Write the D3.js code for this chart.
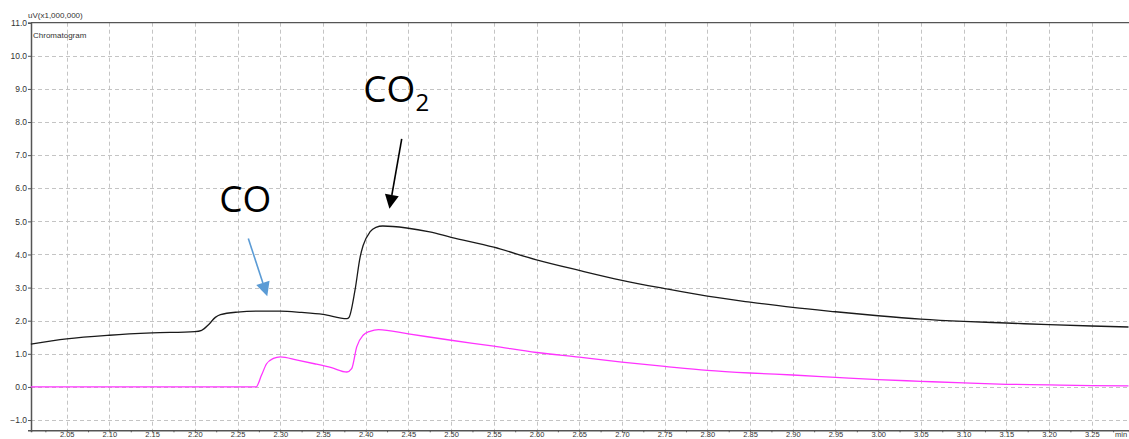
<!DOCTYPE html>
<html>
<head>
<meta charset="utf-8">
<script src="https://cdn.jsdelivr.net/npm/d3@7"></script>
<style>
  html, body { margin: 0; padding: 0; background: #fff; overflow: hidden; }
  svg { display: block; }
</style>
</head>
<body>
<svg id="chart" width="1129" height="439"></svg>
<script>
// Retention time (min) and detector signal (uV x 1,000,000)
const upperTime = [2.008, 2.05, 2.10, 2.15, 2.20, 2.208, 2.216, 2.224, 2.23, 2.25, 2.275, 2.30, 2.325, 2.35, 2.378,
  2.3805, 2.3875, 2.3935, 2.397, 2.405, 2.412, 2.42, 2.448, 2.475, 2.50, 2.55, 2.60, 2.65, 2.70, 2.75, 2.80,
  2.85, 2.90, 2.95, 3.00, 3.05, 3.10, 3.15, 3.20, 3.25, 3.293];
const upperSignal = [1.29, 1.45, 1.56, 1.63, 1.67, 1.71, 1.88, 2.10, 2.18, 2.26, 2.29, 2.29, 2.25, 2.19, 2.06,
  2.10, 2.92, 3.92, 4.27, 4.68, 4.82, 4.86, 4.80, 4.68, 4.52, 4.22, 3.84, 3.52, 3.22, 2.97, 2.74,
  2.56, 2.40, 2.27, 2.15, 2.05, 1.98, 1.93, 1.88, 1.84, 1.81];

const lowerTime = [2.008, 2.2716, 2.278, 2.284, 2.292, 2.30, 2.32, 2.34, 2.36, 2.378, 2.3836, 2.3895, 2.397,
  2.405, 2.415, 2.45, 2.50, 2.55, 2.60, 2.65, 2.70, 2.75, 2.80, 2.85, 2.90, 2.95, 3.00, 3.05, 3.10, 3.15,
  3.20, 3.25, 3.293];
const lowerSignal = [0, 0, 0.35, 0.70, 0.86, 0.91, 0.81, 0.70, 0.58, 0.45, 0.55, 1.21, 1.56,
  1.68, 1.73, 1.60, 1.41, 1.23, 1.04, 0.90, 0.75, 0.62, 0.50, 0.42, 0.36, 0.29, 0.22, 0.17, 0.12, 0.08,
  0.06, 0.04, 0.03];

const xTicks = [2.05, 2.10, 2.15, 2.20, 2.25, 2.30, 2.35, 2.40, 2.45, 2.50, 2.55, 2.60, 2.65, 2.70, 2.75,
  2.80, 2.85, 2.90, 2.95, 3.00, 3.05, 3.10, 3.15, 3.20, 3.25];
const xMinorTicks = [2.025, 2.075, 2.125, 2.175, 2.225, 2.275, 2.325, 2.375, 2.425, 2.475, 2.525, 2.575,
  2.625, 2.675, 2.725, 2.775, 2.825, 2.875, 2.925, 2.975, 3.025, 3.075, 3.125, 3.175, 3.225, 3.275];
const yTicks = [-1, 0, 1, 2, 3, 4, 5, 6, 7, 8, 9, 10, 11];

// Peak labels with their arrows: text anchor, arrow tail and arrow tip in (t, v)
const peakLabels = [
  { text: "CO", sub: "", at: [2.2286, 5.28], tail: [2.2626, 4.48], tip: [2.2848, 2.74], color: "#5b9bd5" },
  { text: "CO", sub: "2", at: [2.3972, 8.60], tail: [2.4422, 7.49], tip: [2.4278, 5.38], color: "#000000" }
];

const plotLeft = 31, plotRight = 1129, plotTop = 22.7, plotBottom = 430.3;
const x = d3.scaleLinear().domain([2.0082, 3.2936]).range([plotLeft, plotRight]);
const y = d3.scaleLinear().domain([-1.31, 11.0]).range([plotBottom, plotTop]);

const svg = d3.select("#chart");
const smallFont = "'Liberation Sans', Arial, sans-serif";

// grid
const grid = svg.append("g").attr("stroke", "#c4c4c4").attr("stroke-width", 1).attr("stroke-dasharray", "4,3");
grid.selectAll("line.v").data(xTicks).join("line").attr("class", "v")
  .attr("x1", d => Math.round(x(d)) + 0.5).attr("x2", d => Math.round(x(d)) + 0.5)
  .attr("y1", plotTop).attr("y2", plotBottom);
grid.selectAll("line.h").data(yTicks.filter(d => d < 11)).join("line").attr("class", "h")
  .attr("x1", plotLeft).attr("x2", plotRight)
  .attr("y1", d => Math.round(y(d)) + 0.5).attr("y2", d => Math.round(y(d)) + 0.5);

// axes
const yAxis = d3.axisLeft(y).tickValues(yTicks).tickFormat(d3.format(".1f")).tickSize(3).tickPadding(1);
const yg = svg.append("g").attr("transform", `translate(${plotLeft},0)`).call(yAxis);
const xAxis = d3.axisBottom(x).tickValues(xTicks).tickFormat(d3.format(".2f")).tickSize(2).tickPadding(0);
const xg = svg.append("g").attr("transform", `translate(0,${plotBottom})`).call(xAxis);
const xMinor = d3.axisBottom(x).tickValues(xMinorTicks).tickFormat("").tickSize(2);
svg.append("g").attr("transform", `translate(0,${plotBottom})`).call(xMinor)
  .call(g => g.select(".domain").remove());

[yg, xg].forEach(g => {
  g.select(".domain").attr("stroke", "#555").attr("stroke-width", 1.5);
  g.selectAll(".tick text").attr("fill", "#333").attr("font-family", smallFont).attr("font-size", 8.5);
});
// bottom labels sit tight under the axis line
xg.selectAll(".tick text").attr("font-size", 7.5).attr("dy", "0.58em");
svg.selectAll(".tick line").attr("stroke", "#555");

// top frame line
svg.append("line").attr("x1", plotLeft).attr("x2", plotRight).attr("y1", plotTop).attr("y2", plotTop)
  .attr("stroke", "#555").attr("stroke-width", 1.2);

// titles
svg.append("text").attr("x", 28).attr("y", 18).attr("font-family", smallFont).attr("font-size", 8)
  .attr("fill", "#333").text("uV(x1,000,000)");
svg.append("text").attr("x", 33).attr("y", 38).attr("font-family", smallFont).attr("font-size", 8)
  .attr("fill", "#333").text("Chromatogram");
svg.append("text").attr("x", 1115).attr("y", plotBottom + 6.6).attr("font-family", smallFont).attr("font-size", 7.5)
  .attr("fill", "#333").text("min");

// traces
const line = d3.line().x(d => x(d[0])).y(d => y(d[1])).curve(d3.curveMonotoneX);
svg.append("path").datum(lowerTime.map((t, i) => [t, lowerSignal[i]]))
  .attr("d", line).attr("fill", "none").attr("stroke", "#ff33ff").attr("stroke-width", 1.3);
svg.append("path").datum(upperTime.map((t, i) => [t, upperSignal[i]]))
  .attr("d", line).attr("fill", "none").attr("stroke", "#1a1a1a").attr("stroke-width", 1.3);

// peak annotations
const ann = svg.append("g");
peakLabels.forEach(p => {
  const t = ann.append("text").attr("x", x(p.at[0])).attr("y", y(p.at[1]))
    .attr("font-family", "'Open Sans', sans-serif").attr("font-size", 37).attr("fill", "#000")
    .text(p.text);
  if (p.sub) t.append("tspan").attr("font-size", 24).attr("dy", 9).text(p.sub);

  const x0 = x(p.tail[0]), y0 = y(p.tail[1]), x1 = x(p.tip[0]), y1 = y(p.tip[1]);
  const len = Math.hypot(x1 - x0, y1 - y0), ux = (x1 - x0) / len, uy = (y1 - y0) / len;
  const headL = 14, headW = 7;
  const bx = x1 - ux * headL, by = y1 - uy * headL;
  ann.append("line").attr("x1", x0).attr("y1", y0).attr("x2", bx).attr("y2", by)
    .attr("stroke", p.color).attr("stroke-width", 1.6);
  ann.append("path")
    .attr("d", `M${x1},${y1}L${bx - uy * headW},${by + ux * headW}L${bx + uy * headW},${by - ux * headW}Z`)
    .attr("fill", p.color);
});
</script>
</body>
</html>
